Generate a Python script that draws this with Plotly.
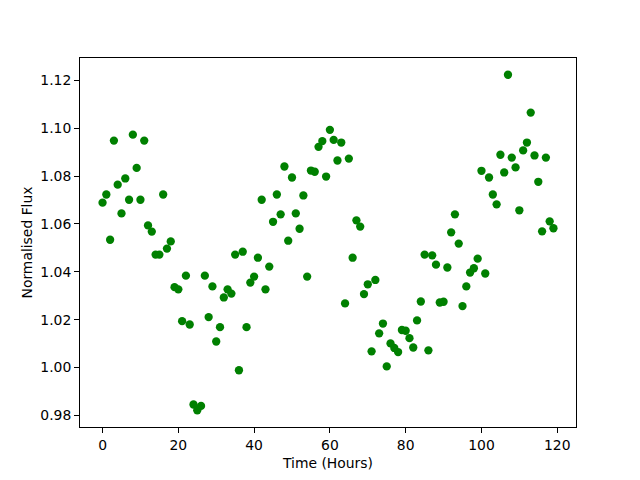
import plotly.graph_objects as go

hours = list(range(120))
flux = [
    1.0689, 1.0723, 1.0534, 1.0948, 1.0764, 1.0644, 1.0790, 1.0701, 1.0973, 1.0834,
    1.0701, 1.0948, 1.0594, 1.0568, 1.0472, 1.0472, 1.0723, 1.0497, 1.0527, 1.0336,
    1.0327, 1.0194, 1.0384, 1.0180, 0.9846, 0.9822, 0.9840, 1.0384, 1.0211, 1.0339,
    1.0109, 1.0169, 1.0293, 1.0327, 1.0309, 1.0472, 0.9989, 1.0484, 1.0169, 1.0355,
    1.0380, 1.0459, 1.0701, 1.0327, 1.0422, 1.0609, 1.0723, 1.0640, 1.0840, 1.0530,
    1.0794, 1.0644, 1.0580, 1.0719, 1.0380, 1.0823, 1.0818, 1.0922, 1.0946, 1.0798,
    1.0993, 1.0951, 1.0865, 1.0940, 1.0268, 1.0873, 1.0459, 1.0615, 1.0589, 1.0307,
    1.0348, 1.0068, 1.0366, 1.0143, 1.0184, 1.0005, 1.0101, 1.0082, 1.0065, 1.0157,
    1.0154, 1.0123, 1.0084, 1.0197, 1.0276, 1.0472, 1.0072, 1.0469, 1.0430, 1.0272,
    1.0275, 1.0418, 1.0565, 1.0640, 1.0518, 1.0257, 1.0339, 1.0397, 1.0415, 1.0455,
    1.0822, 1.0393, 1.0794, 1.0723, 1.0682, 1.0889, 1.0815, 1.1223, 1.0877, 1.0836,
    1.0657, 1.0907, 1.0940, 1.1065, 1.0886, 1.0776, 1.0569, 1.0877, 1.0611, 1.0582,
]

x_label = "Time (Hours)"
y_label = "Normalised Flux"

xmin, xmax = min(hours), max(hours)
ymin, ymax = min(flux), max(flux)
xpad = (xmax - xmin) * 0.05
ypad = (ymax - ymin) * 0.05

fig = go.Figure()
fig.add_trace(go.Scatter(
    x=hours, y=flux, mode="markers",
    marker=dict(color="#008000", size=8.3, line=dict(width=0)),
    showlegend=False,
))

font = dict(family="DejaVu Sans", size=13.9, color="black")
axis_common = dict(
    showline=True, linecolor="black", linewidth=1.1, mirror=True,
    ticks="outside", ticklen=4.9, tickwidth=1.1, tickcolor="black",
    showgrid=False, zeroline=False, tickfont=font,
)
fig.update_layout(
    width=632, height=472,
    margin=dict(l=72, r=64, t=50, b=53),
    paper_bgcolor="white", plot_bgcolor="white",
    font=font,
    xaxis=dict(range=[xmin - xpad, xmax + xpad], dtick=20, tick0=0,
               title=dict(text=x_label, font=font, standoff=6), **axis_common),
    yaxis=dict(range=[ymin - ypad, ymax + ypad], dtick=0.02, tick0=0, tickformat=".2f",
               title=dict(text=y_label, font=font, standoff=4), **axis_common),
)
fig.write_html("out.html")
